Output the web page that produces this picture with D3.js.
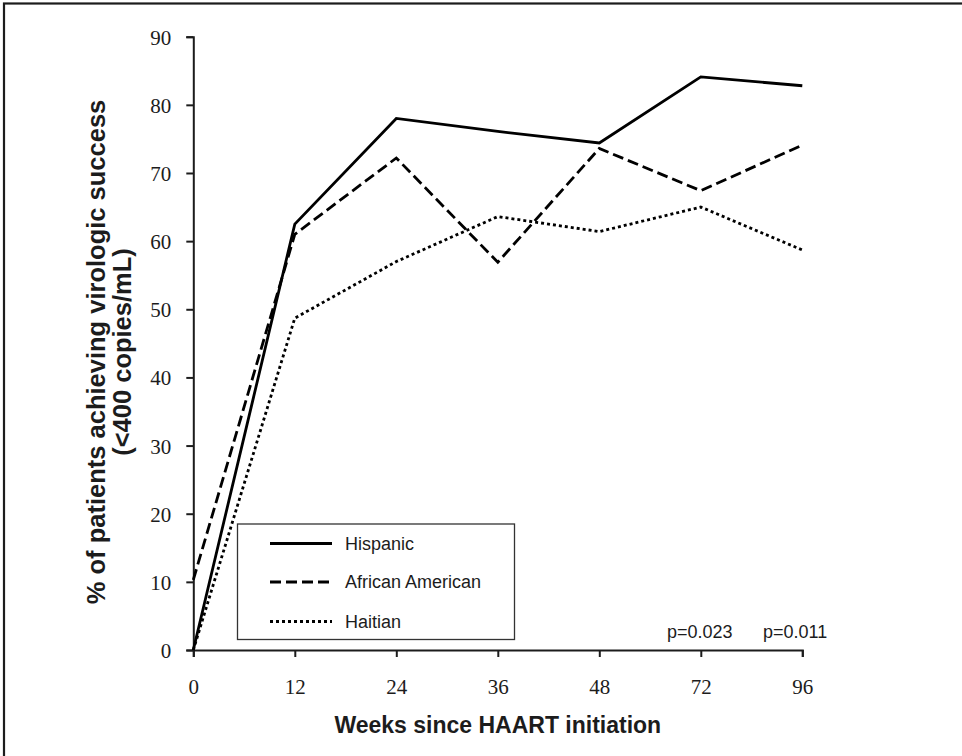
<!DOCTYPE html>
<html>
<head>
<meta charset="utf-8">
<script src="https://cdn.jsdelivr.net/npm/d3@7"></script>
<style>
  body { margin: 0; background: #fff; }
  svg { display: block; }
</style>
</head>
<body>
<svg id="chart" width="962" height="756"></svg>
<script>
// week labels on the x axis (ordinal, equally spaced)
var weeks = ["0", "12", "24", "36", "48", "72", "96"];
var yTicks = [0, 10, 20, 30, 40, 50, 60, 70, 80, 90];

// % achieving virologic success
var hispanic = [0, 62.5, 78, 76.1, 74.4, 84.1, 82.8];
var africanAmerican = [10.3, 61, 72.2, 56.9, 73.6, 67.4, 74.1];
var haitian = [0, 48.7, 57, 63.6, 61.4, 65, 58.7];

var seriesNames = ["Hispanic", "African American", "Haitian"];
var pValues = ["p=0.023", "p=0.011"];

var series = [
  { name: seriesNames[0], vals: hispanic, dash: null },
  { name: seriesNames[1], vals: africanAmerican, dash: "11,5" },
  { name: seriesNames[2], vals: haitian, dash: "3,3" }
];

var ink = "#1c1c1c";
var sans = "'Liberation Sans', Arial, sans-serif";
var svg = d3.select("#chart");

// frame (only top/left edges show in the picture)
svg.append("rect")
  .attr("x", 4).attr("y", 3.5)
  .attr("width", 1000).attr("height", 1000)
  .attr("fill", "none").attr("stroke", ink).attr("stroke-width", 2.2);

var x = d3.scalePoint().domain(weeks).range([193.3, 802.3]);
var y = d3.scaleLinear().domain([0, 90]).range([650, 36.7]);

// y axis
var yAxis = svg.append("g")
  .attr("transform", "translate(193.3,0)")
  .call(d3.axisLeft(y).tickValues(yTicks).tickSize(7).tickPadding(15));
// x axis
var xAxis = svg.append("g")
  .attr("transform", "translate(0,650)")
  .call(d3.axisBottom(x).tickSize(7).tickPadding(22));

[xAxis, yAxis].forEach(function (g) {
  g.selectAll("path").attr("stroke", ink).attr("stroke-width", 2);
  g.selectAll("line").attr("stroke", ink).attr("stroke-width", 2);
  g.selectAll("text")
    .attr("fill", ink)
    .style("font-family", "'Liberation Serif', 'Times New Roman', serif")
    .style("font-size", "21px");
});
yAxis.selectAll("text").attr("dy", "0.36em");

// lines
var line = d3.line()
  .x(function (d, i) { return x(weeks[i]); })
  .y(function (d) { return y(d); });

series.forEach(function (s) {
  svg.append("path")
    .datum(s.vals)
    .attr("d", line)
    .attr("fill", "none")
    .attr("stroke", "#000")
    .attr("stroke-width", 2.8)
    .attr("stroke-dasharray", s.dash);
});

// legend
var legend = svg.append("g");
legend.append("rect")
  .attr("x", 237.5).attr("y", 524)
  .attr("width", 277).attr("height", 115.5)
  .attr("fill", "#fff").attr("stroke", "#333").attr("stroke-width", 1.3);

var rowY = [543.5, 582, 621.5];
series.forEach(function (s, i) {
  legend.append("line")
    .attr("x1", 270).attr("x2", 332)
    .attr("y1", rowY[i]).attr("y2", rowY[i])
    .attr("stroke", "#000").attr("stroke-width", 2.8)
    .attr("stroke-dasharray", s.dash);
  legend.append("text")
    .attr("x", 345).attr("y", rowY[i]).attr("dy", "0.35em")
    .attr("fill", ink)
    .style("font-family", sans)
    .style("font-size", "18px")
    .text(s.name);
});

// p-values
svg.selectAll(".pval")
  .data(pValues)
  .join("text")
  .attr("class", "pval")
  .attr("x", function (d, i) { return [667, 763][i]; })
  .attr("y", 638)
  .attr("fill", ink)
  .style("font-family", sans)
  .style("font-size", "18px")
  .text(function (d) { return d; });

// axis titles
svg.append("text")
  .attr("x", 497.8).attr("y", 733)
  .attr("text-anchor", "middle")
  .attr("fill", ink)
  .style("font-family", sans)
  .style("font-size", "23px").style("font-weight", "bold")
  .text("Weeks since HAART initiation");

var yTitle = svg.append("text")
  .attr("transform", "translate(0,352) rotate(-90)")
  .attr("text-anchor", "middle")
  .attr("fill", ink)
  .style("font-family", sans)
  .style("font-size", "25.5px").style("font-weight", "bold");
yTitle.append("tspan").attr("x", 0).attr("y", 105)
  .text("% of patients achieving virologic success");
yTitle.append("tspan").attr("x", 0).attr("y", 131)
  .text("(<400 copies/mL)");
</script>
</body>
</html>
